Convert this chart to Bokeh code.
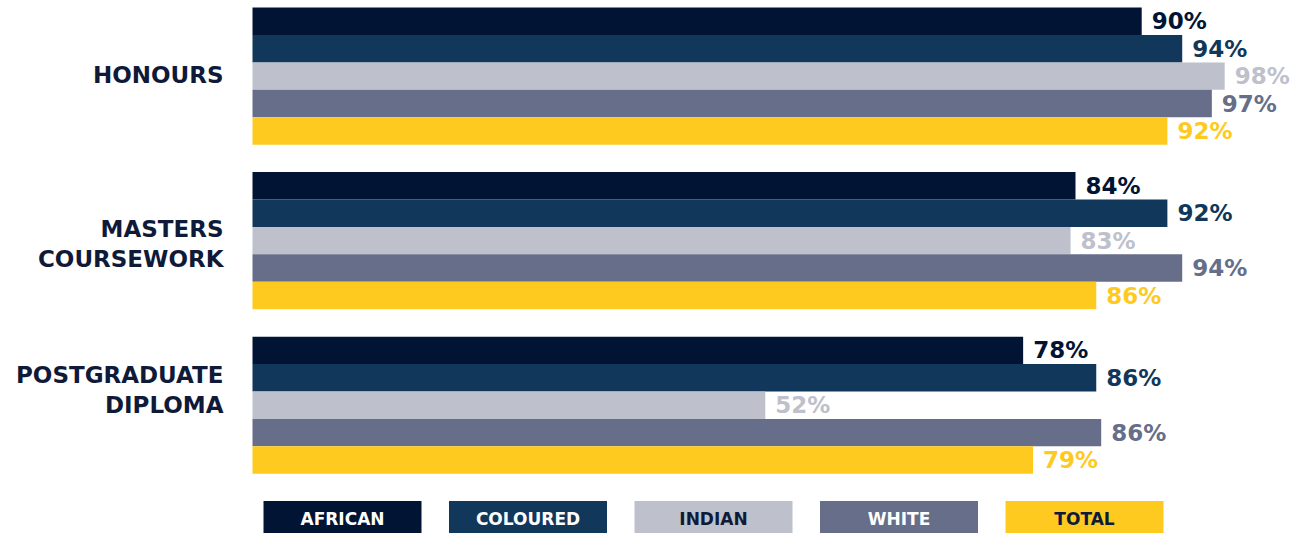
from bokeh.plotting import figure
from bokeh.models import ColumnDataSource, Range1d
from bokeh.core.properties import value
from bokeh.embed import file_html
from bokeh.resources import INLINE

# ---- data ----
programmes = ["HONOURS", "MASTERS\nCOURSEWORK", "POSTGRADUATE\nDIPLOMA"]
groups = ["AFRICAN", "COLOURED", "INDIAN", "WHITE", "TOTAL"]
african = [90.0, 83.3, 78.0]
coloured = [94.1, 92.6, 85.4]
indian = [98.4, 82.8, 51.9]
white = [97.1, 94.1, 85.9]
total = [92.6, 85.4, 79.0]
african_labels = ["90%", "84%", "78%"]
coloured_labels = ["94%", "92%", "86%"]
indian_labels = ["98%", "83%", "52%"]
white_labels = ["97%", "94%", "86%"]
total_labels = ["92%", "86%", "79%"]

colors = ["#021434", "#11375A", "#BEC0CB", "#666E89", "#FFCA1F"]
legend_text_colors = ["#FFFFFF", "#FFFFFF", "#0F1A38", "#FFFFFF", "#0F1A38"]
label_color = "#0F1A38"
FONT = "DejaVu Sans"

series = [african, coloured, indian, white, total]
series_labels = [african_labels, coloured_labels, indian_labels, white_labels, total_labels]

# ---- layout (pixels) ----
W, H = 1295, 533
PX_PER_UNIT_X = 9.88      # pixels per percentage point
X0_PX = 252               # where 0% sits inside the frame
SLOT = 27.42              # bar slot height in pixels
TOP_PX = 20.8             # frame-top to first bar center
CAT_Y_SHIFT_PX = [-1, 3, -15]   # vertical placement of programme labels (screen px, + is down)

x_start = -X0_PX / PX_PER_UNIT_X
x_end = (W - X0_PX) / PX_PER_UNIT_X
y_end = TOP_PX / SLOT
y_start = y_end - H / SLOT

def px_to_x(px):
    return x_start + px / PX_PER_UNIT_X

def px_to_y(py):
    return y_end - py / SLOT

p = figure(width=W, height=H, output_backend="svg", toolbar_location=None,
           x_range=Range1d(x_start, x_end), y_range=Range1d(y_start, y_end),
           min_border=0, outline_line_color=None)
p.axis.visible = False
p.grid.visible = False
p.background_fill_color = "white"
p.border_fill_color = "white"

for j, (name, vals, lbls) in enumerate(zip(groups, series, series_labels)):
    ys = [-(g * 6 + j) for g in range(len(programmes))]
    src = ColumnDataSource(dict(y=ys, right=vals, lbl=lbls))
    p.hbar(y="y", left=0, right="right", height=1.0, source=src,
           fill_color=colors[j], line_color=None)
    p.text(x="right", y="y", text="lbl", source=src, x_offset=10, y_offset=0,
           text_font=value(FONT), text_font_style="bold", text_font_size="23px",
           text_color=colors[j], text_baseline="middle", text_align="left")

# programme labels
cat_x = [px_to_x(223)] * len(programmes)
cat_y = [-(g * 6 + 2) for g in range(len(programmes))]
for g in range(len(programmes)):
    sub = ColumnDataSource(dict(x=[cat_x[g]], y=[cat_y[g]], t=[programmes[g]]))
    p.text(x="x", y="y", text="t", source=sub, text_font=value(FONT),
           text_font_style="bold", text_font_size="23px", text_color=label_color,
           text_align="right", text_baseline="middle", text_line_height=1.16,
           y_offset=CAT_Y_SHIFT_PX[g])

# legend boxes
lx = [px_to_x(342 + 185.5 * i) for i in range(len(groups))]
ly = [px_to_y(517)] * len(groups)
leg_src = ColumnDataSource(dict(x=lx, y=ly, t=groups, c=colors, tc=legend_text_colors))
p.rect(x="x", y="y", width=158, height=33, width_units="screen", height_units="screen",
       fill_color="c", line_color=None, source=leg_src)
p.text(x="x", y="y", text="t", source=leg_src, text_font=value(FONT),
       text_font_style="bold", text_font_size="17px", text_color="tc",
       text_align="center", text_baseline="middle", y_offset=1)

open("out.html", "w").write(file_html(p, INLINE))
